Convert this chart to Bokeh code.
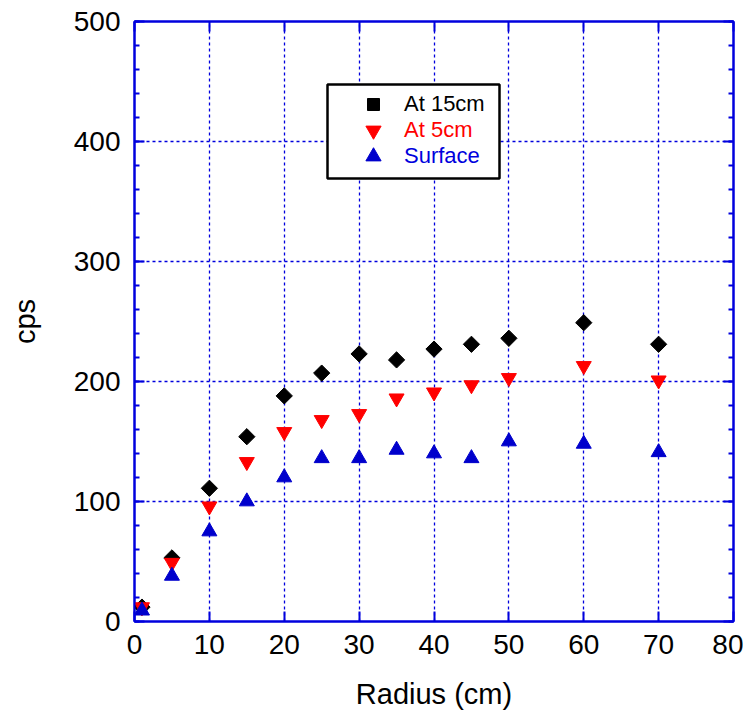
import math
from bokeh.plotting import figure
from bokeh.models import (LinearAxis, Range1d, Legend, LegendItem, FixedTicker,
                          BoxAnnotation, ColumnDataSource)
from bokeh.embed import file_html
from bokeh.resources import INLINE

radius = [1, 5, 10, 15, 20, 25, 30, 35, 40, 45, 50, 60, 70]
at_15cm = [12, 53, 111, 154, 188, 207, 223, 218, 227, 231, 236, 249, 231]
at_5cm = [12, 49, 96, 133, 158, 168, 173, 186, 191, 197, 203, 213, 201]
surface = [9, 38, 75, 100, 120, 136, 136, 143, 140, 136, 150, 148, 141]
series_names = ["At 15cm", "At 5cm", "Surface"]
x_ticks = [0, 10, 20, 30, 40, 50, 60, 70, 80]
y_ticks = [0, 100, 200, 300, 400, 500]

BLUE = "#0000dd"
FONT = "Liberation Sans"

p = figure(frame_width=599, frame_height=600, output_backend="svg", toolbar_location=None,
           x_range=Range1d(0, 80), y_range=Range1d(0, 500),
           x_axis_location=None, y_axis_location=None,
           min_border_left=134, min_border_right=10, min_border_top=21, min_border_bottom=84)
p.background_fill_color = "white"
p.border_fill_color = "white"
p.outline_line_color = BLUE
p.outline_line_width = 2

def make_axis(kind, loc, labels):
    ticks = x_ticks if kind == "x" else y_ticks
    ax = LinearAxis(ticker=FixedTicker(ticks=ticks,
                    minor_ticks=([] if kind == "x" else list(range(0, 501, 20)))))
    ax.axis_line_color = BLUE
    ax.axis_line_width = 2
    ax.major_tick_line_color = BLUE
    ax.major_tick_line_width = 2
    ax.minor_tick_line_color = BLUE
    ax.minor_tick_line_width = 2
    ax.major_tick_in = 10
    ax.major_tick_out = 0
    ax.minor_tick_in = 5
    ax.minor_tick_out = 0
    ax.major_label_text_font = FONT
    ax.major_label_text_font_size = "28px"
    ax.major_label_text_color = "black" if labels else None
    if not labels:
        ax.major_label_standoff = 0
    ax.axis_label_text_font = FONT
    ax.axis_label_text_font_size = "29px"
    ax.axis_label_text_font_style = "normal"
    ax.axis_label_text_color = "black"
    p.add_layout(ax, loc)
    return ax

xb = make_axis("x", "below", True)
xb.axis_label = "Radius (cm)"
xb.major_label_standoff = 13
xb.axis_label_standoff = 21
yl = make_axis("y", "left", True)
yl.axis_label = "cps"
yl.major_label_standoff = 14
yl.axis_label_standoff = 30
make_axis("x", "above", False)
make_axis("y", "right", False)

p.xgrid.ticker = FixedTicker(ticks=x_ticks)
p.ygrid.ticker = FixedTicker(ticks=y_ticks)
for g in (p.xgrid, p.ygrid):
    g.grid_line_color = BLUE
    g.grid_line_width = 1.3
    g.grid_line_dash = "3 3"

src = ColumnDataSource(dict(x=radius, a=at_15cm, b=at_5cm, c=surface))
r1 = p.scatter("x", "a", source=src, marker="square", size=11.5, angle=math.pi / 4,
               fill_color="black", line_color="black")
r2 = p.scatter("x", "b", source=src, marker="inverted_triangle", size=15,
               fill_color="#ff0000", line_color="#ff0000")
r3 = p.scatter("x", "c", source=src, marker="triangle", size=15,
               fill_color="#0000cc", line_color="#0000cc")

p.add_layout(BoxAnnotation(left=193, right=365, bottom=443, top=537,
                           left_units="screen", right_units="screen",
                           bottom_units="screen", top_units="screen",
                           fill_color="white", fill_alpha=1,
                           line_color="black", line_alpha=1, line_width=2.5,
                           level="overlay"))

row_y = [517, 491, 465]
colors = ["black", "#ff0000", "#0000dd"]
glyph_sz = [30, 38, 38]
for name, r, yy, col, gs in zip(series_names, [r1, r2, r3], row_y, colors, glyph_sz):
    half = gs // 2
    lg = Legend(items=[LegendItem(label=name, renderers=[r])],
                location=(239 - half, yy - half), orientation="vertical",
                padding=0, margin=0, spacing=0, glyph_width=gs, glyph_height=gs,
                label_standoff=int(270 - 239 - half), label_height=gs,
                label_text_font=FONT, label_text_font_size="22px",
                label_text_color=col, border_line_color=None,
                background_fill_alpha=0, level="overlay")
    p.add_layout(lg, "center")

open("out.html", "w").write(file_html(p, INLINE))
